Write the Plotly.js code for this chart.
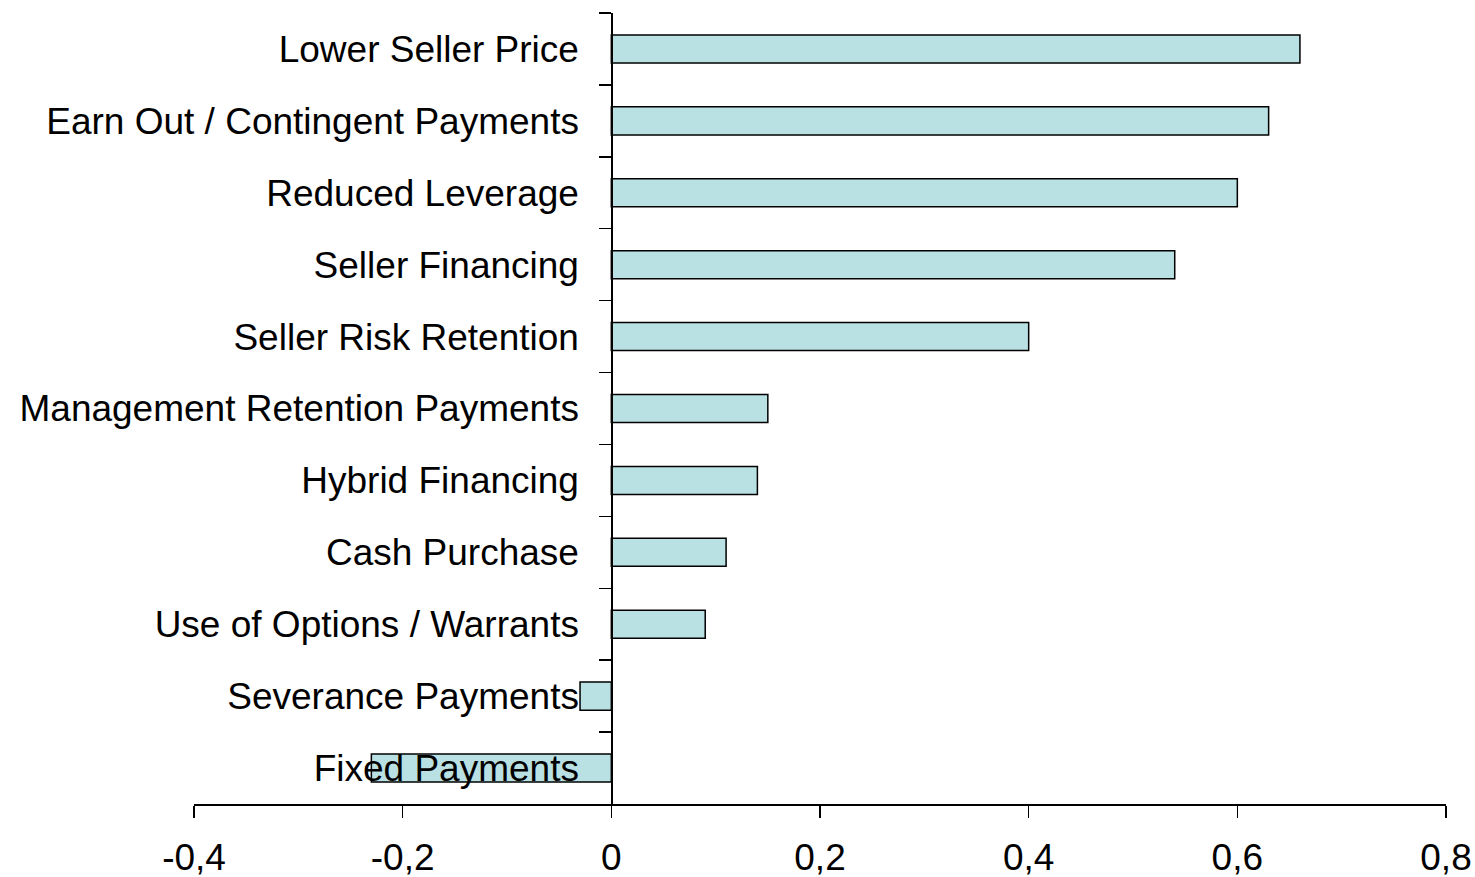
<!DOCTYPE html>
<html>
<head>
<meta charset="utf-8">
<script src="https://cdn.plot.ly/plotly-3.0.1.min.js"></script>
<style>html,body{margin:0;padding:0;background:#fff;}#chart{width:1475px;height:877px;}</style>
</head>
<body>
<div id="chart"></div>
<script>
const categories = [
  "Lower Seller Price",
  "Earn Out / Contingent Payments",
  "Reduced Leverage",
  "Seller Financing",
  "Seller Risk Retention",
  "Management Retention Payments",
  "Hybrid Financing",
  "Cash Purchase",
  "Use of Options / Warrants",
  "Severance Payments",
  "Fixed Payments"
];
const values = [0.66, 0.63, 0.60, 0.54, 0.40, 0.15, 0.14, 0.11, 0.09, -0.03, -0.23];
const xTickVals = [-0.4, -0.2, 0, 0.2, 0.4, 0.6, 0.8];
const xTickText = ["-0,4", "-0,2", "0", "0,2", "0,4", "0,6", "0,8"];

const fontFam = "Liberation Sans, Arial, sans-serif";
const trace = {
  type: "bar",
  orientation: "h",
  x: values,
  y: categories,
  marker: { color: "#B9E0E3", line: { color: "#000", width: 1.5 } },
  hoverinfo: "x+y"
};
const margL = 194, margR = 29;
const xmin = -0.4, xmax = 0.8;
const zeroFrac = (0 - xmin) / (xmax - xmin);
const layout = {
  width: 1475, height: 877,
  margin: { l: margL, r: margR, t: 13, b: 73 },
  paper_bgcolor: "#fff", plot_bgcolor: "#fff",
  showlegend: false,
  bargap: 0.61,
  font: { family: fontFam, size: 37, color: "#000" },
  xaxis: {
    range: [xmin, xmax],
    tickvals: xTickVals, ticktext: xTickText,
    showgrid: false, zeroline: false,
    showline: true, linecolor: "#000", linewidth: 1.5,
    ticks: "outside", ticklen: 12, tickwidth: 1.5, tickcolor: "#000",
    tickfont: { family: fontFam, size: 37, color: "#000" },
    ticklabelstandoff: 8
  },
  yaxis: {
    type: "category",
    autorange: "reversed",
    anchor: "free", position: zeroFrac,
    showgrid: false, zeroline: false,
    showline: true, linecolor: "#000", linewidth: 1.5,
    ticks: "outside", ticklen: 12, tickwidth: 1.5, tickcolor: "#000",
    tickson: "boundaries",
    tickfont: { family: fontFam, size: 37, color: "#000" },
    ticklabelstandoff: 25
  }
};
Plotly.newPlot("chart", [trace], layout, { displayModeBar: false, staticPlot: true });
</script>
</body>
</html>
